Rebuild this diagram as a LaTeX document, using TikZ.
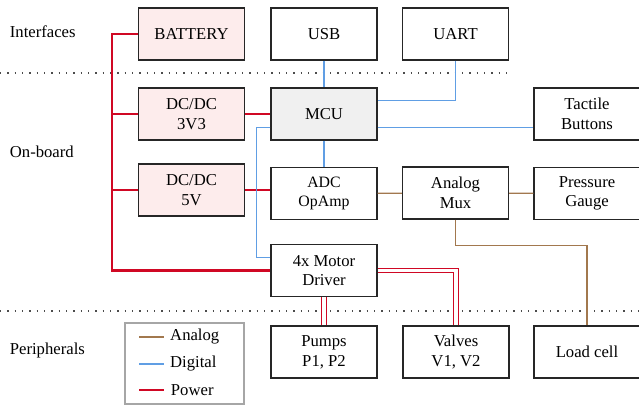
\documentclass[tikz,border=0pt]{standalone}
\usepackage{fontspec}
\setmainfont{Liberation Serif}[Ligatures=TeX]
\usetikzlibrary{calc}
\definecolor{pwr}{RGB}{208,8,36}
\definecolor{dig}{RGB}{96,158,228}
\definecolor{ana}{RGB}{162,120,78}
\definecolor{pwrfill}{RGB}{253,236,236}
\definecolor{mcufill}{RGB}{240,240,240}
\begin{document}
\begin{tikzpicture}[x=0.6pt,y=-0.6pt,
    font=\rmfamily\fontsize{10}{11.8}\selectfont,
    blk/.style={draw=black!85,line width=0.7pt,minimum width=63.6pt,minimum height=31.2pt,align=center,inner sep=1pt},
    pwrblk/.style={blk,fill=pwrfill},
    power/.style={draw=pwr,line width=1.7pt},
    bus/.style={draw=pwr,line width=0.7pt,double=white,double distance=2pt},
    digital/.style={draw=dig,line width=0.7pt},
    analog/.style={draw=ana,line width=0.8pt},
    sep/.style={draw=black!70,line width=0.9pt,dash pattern=on 0.8pt off 3.6pt}]
  \useasboundingbox (0,0) rectangle (639,405);
  \draw
    (191.5,34) node[pwrblk] (bat){BATTERY}
    (324,34) node[blk] (usb){USB}
    (455.5,34) node[blk] (uart){UART}
    (191.5,114) node[pwrblk] (dc33){DC/DC\\3V3}
    (324,114) node[blk,fill=mcufill] (mcu){MCU}
    (587,114) node[blk] (btn){Tactile\\Buttons}
    (191.5,190) node[pwrblk] (dc5){DC/DC\\5V}
    (324,193.5) node[blk,font=\rmfamily\fontsize{9.5}{11.8}\selectfont] (adc){ADC\\OpAmp}
    (455.5,193) node[blk] (mux){Analog\\Mux}
    (587,193.5) node[blk] (gauge){Pressure\\Gauge}
    (324,270.5) node[blk] (drv){4x Motor\\Driver}
    (324,352) node[blk] (pumps){Pumps\\P1, P2}
    (456,352) node[blk] (valves){Valves\\V1, V2}
    (587,352) node[blk] (load){Load cell};
  \draw
    (4,32) node[anchor=west] (l1){Interfaces}
    (4,152) node[anchor=west] (l2){On-board}
    (4,350) node[anchor=west] (l3){Peripherals};
  \draw[sep] (0,73) -- (510,73);
  \draw[sep] (0,311) -- (639,311);
  \coordinate (rail) at (112,200);
  \coordinate (mcuE1) at ($(mcu.north east)!0.25!(mcu.south east)$);
  \coordinate (mcuE2) at ($(mcu.north east)!0.75!(mcu.south east)$);
  \coordinate (mcuW) at ($(mcu.north west)!0.75!(mcu.south west)$);
  \coordinate (drvW) at ($(drv.north west)!0.25!(drv.south west)$);
  \draw[power] (bat.west) -| (rail) |- (drv.west);
  \draw[power] (dc33.west) -- (dc33.west -| rail);
  \draw[power] (dc5.west) -- (dc5.west -| rail);
  \draw[power] (dc33) to (mcu);
  \draw[power] (dc5.east) -- (dc5.east -| adc.west);
  \draw[bus] (drv) to (pumps);
  \draw[bus] (drv.east) -| (valves.north);
  \draw[digital] (usb) to (mcu);
  \draw[digital] (uart.south) |- (mcuE1);
  \draw[digital] (mcuE2) -- (mcuE2 -| btn.west);
  \draw[digital] (mcu) to (adc);
  \draw[digital] (mcuW) -- ++(-14,0) |- (drvW);
  \draw[analog] (adc) to (mux);
  \draw[analog] (mux) to (gauge);
  \draw[analog] (mux.south) -- ++(0,26) -| (load.north);
  \draw[black!35,line width=0.8pt] (125,323) rectangle (244,404);
  \draw[analog] (139,337) -- ++(25,0) node[right,text=black] (la){Analog};
  \draw[digital] (139,364) -- ++(25,0) node[right,text=black] (ld){Digital};
  \draw[power] (139,390) -- ++(25,0) node[right,text=black] (lp){Power};
\end{tikzpicture}
\end{document}
